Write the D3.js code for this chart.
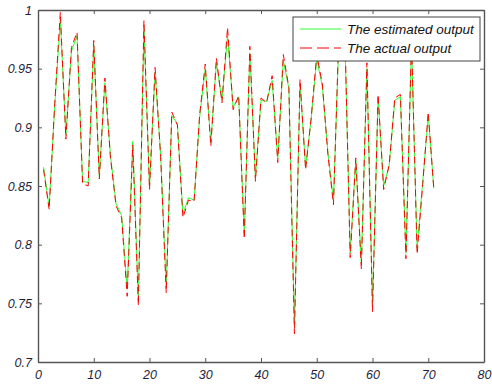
<!DOCTYPE html>
<html>
<head>
<meta charset="utf-8">
<script src="https://cdn.jsdelivr.net/npm/d3@7"></script>
<style>
  body { margin: 0; background: #fff; }
  svg text { font-family: "Liberation Sans", Arial, sans-serif; font-style: italic; }
</style>
</head>
<body>
<div id="chart"></div>
<script>
// sample index 1..71
const actual = [
  0.864, 0.830, 0.920, 0.998, 0.890, 0.968, 0.981, 0.852, 0.850, 0.974,
  0.856, 0.942, 0.874, 0.833, 0.823, 0.756, 0.885, 0.748, 0.991, 0.847,
  0.951, 0.875, 0.759, 0.913, 0.902, 0.823, 0.838, 0.837, 0.911, 0.954,
  0.884, 0.959, 0.921, 0.985, 0.915, 0.927, 0.805, 0.969, 0.854, 0.925,
  0.921, 0.944, 0.870, 0.962, 0.934, 0.724, 0.941, 0.864, 0.908, 0.962,
  0.937, 0.877, 0.834, 0.985, 0.990, 0.789, 0.874, 0.779, 0.955, 0.743,
  0.928, 0.847, 0.868, 0.925, 0.928, 0.788, 0.975, 0.792, 0.851, 0.913,
  0.847
];
const estimated = [
  0.866, 0.832, 0.918, 0.992, 0.893, 0.965, 0.978, 0.854, 0.853, 0.970,
  0.858, 0.938, 0.876, 0.835, 0.825, 0.762, 0.888, 0.753, 0.985, 0.850,
  0.947, 0.877, 0.764, 0.910, 0.903, 0.826, 0.840, 0.838, 0.909, 0.950,
  0.887, 0.955, 0.923, 0.978, 0.917, 0.926, 0.809, 0.963, 0.857, 0.923,
  0.922, 0.940, 0.873, 0.957, 0.933, 0.730, 0.937, 0.866, 0.907, 0.958,
  0.935, 0.879, 0.837, 0.980, 0.984, 0.793, 0.872, 0.784, 0.950, 0.748,
  0.925, 0.850, 0.868, 0.923, 0.926, 0.793, 0.970, 0.797, 0.853, 0.910,
  0.848
];
const xTicks = [0, 10, 20, 30, 40, 50, 60, 70, 80];
const yTicks = [0.7, 0.75, 0.8, 0.85, 0.9, 0.95, 1];
const seriesNames = ["The estimated output", "The actual output"];

const width = 492, height = 385;
const margin = { top: 10, left: 38, bottom: 23, right: 8 };
const iw = width - margin.left - margin.right;
const ih = height - margin.top - margin.bottom;

const svg = d3.select("#chart").append("svg")
  .attr("width", width).attr("height", height);
const g = svg.append("g").attr("transform", `translate(${margin.left},${margin.top})`);

const x = d3.scaleLinear().domain([0, 80]).range([0, iw]);
const y = d3.scaleLinear().domain([0.7, 1]).range([ih, 0]);

const axisColor = "#555";
const labelColor = "#1f1f3a";

// axes with inward ticks, box on
const styleAxis = (sel) => {
  sel.select(".domain").attr("stroke", axisColor).attr("stroke-width", 1.4);
  sel.selectAll(".tick line").attr("stroke", axisColor);
  sel.selectAll("text").attr("fill", labelColor).attr("font-size", 12.5);
};
g.append("g").attr("transform", `translate(0,${ih})`)
  .call(d3.axisBottom(x).tickValues(xTicks).tickSize(-4).tickPadding(8).tickSizeOuter(0))
  .call(styleAxis);
g.append("g")
  .call(d3.axisLeft(y).tickValues(yTicks).tickSize(-4).tickPadding(6).tickSizeOuter(0)
    .tickFormat(d => d3.format("")(+d.toFixed(2))))
  .call(styleAxis);
g.append("g")
  .call(d3.axisTop(x).tickValues(xTicks).tickSize(-4).tickFormat("").tickSizeOuter(0))
  .call(styleAxis);
g.append("g").attr("transform", `translate(${iw},0)`)
  .call(d3.axisRight(y).tickValues(yTicks).tickSize(-4).tickFormat("").tickSizeOuter(0))
  .call(styleAxis);

const line = d3.line().x((d, i) => x(i + 1)).y(d => y(d));

g.append("path").datum(estimated)
  .attr("fill", "none").attr("stroke", "#33ff33").attr("stroke-width", 1)
  .attr("d", line);
g.append("path").datum(actual)
  .attr("fill", "none").attr("stroke", "#ff0000").attr("stroke-width", 1)
  .attr("stroke-dasharray", "7,4")
  .attr("d", line);

// legend
const lg = svg.append("g").attr("transform", "translate(293,17)");
lg.append("rect").attr("width", 187).attr("height", 44)
  .attr("fill", "#fff").attr("stroke", "#444").attr("stroke-width", 1);
const items = [
  { name: seriesNames[0], color: "#33ff33", dash: null },
  { name: seriesNames[1], color: "#ff0000", dash: "12,5" }
];
items.forEach((it, i) => {
  const yy = 12 + i * 19;
  lg.append("line").attr("x1", 7).attr("x2", 48).attr("y1", yy).attr("y2", yy)
    .attr("stroke", it.color).attr("stroke-width", 1)
    .attr("stroke-dasharray", it.dash);
  lg.append("text").attr("x", 54).attr("y", yy + 5)
    .attr("font-size", 13.5).attr("fill", "#111").text(it.name);
});
</script>
</body>
</html>
